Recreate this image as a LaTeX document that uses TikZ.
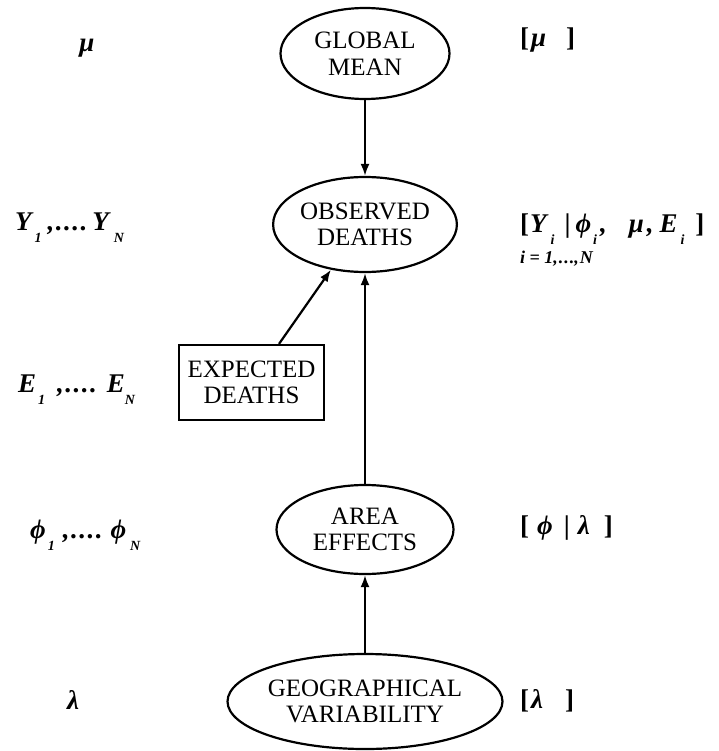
\documentclass[tikz,border=0pt]{standalone}
\usepackage{fontspec}
\setmainfont{Liberation Serif}
\usetikzlibrary{shapes.geometric,arrows.meta}
\newcommand\sbs[1]{\raisebox{-12pt}{\fontsize{14}{14}\selectfont #1}}
\newcommand\dts{,\kern1.5pt.\kern1.5pt.\kern1.5pt.\kern1.5pt.}
\newcommand\bk[1]{\textup{#1}}
\begin{document}
\begin{tikzpicture}[x=1pt,y=-1pt,
  ell/.style={draw,ellipse,line width=2.2pt,inner sep=0pt,align=center,
    font=\fontsize{25}{26.5}\selectfont},
  boxnode/.style={draw,rectangle,line width=2.2pt,inner sep=0pt,align=center,
    font=\fontsize{25}{26.5}\selectfont},
  lab/.style={font=\fontsize{27}{30}\selectfont\bfseries\itshape,inner sep=0pt},
  arr/.style={line width=2.2pt,-{Latex[length=12pt,width=9pt]}}]
\useasboundingbox (0,0) rectangle (718,751);
% nodes
\node[ell,minimum width=169pt,minimum height=91pt] (gm) at (365,53.5) {GLOBAL\\MEAN};
\node[ell,minimum width=175pt,minimum height=95pt] (od) at (365,224.5) {OBSERVED\\DEATHS};
\node[boxnode,minimum width=145pt,minimum height=75pt] (ed) at (251.5,382.5) {EXPECTED\\DEATHS};
\node[ell,minimum width=177pt,minimum height=89pt] (ae) at (365,529.5) {AREA\\EFFECTS};
\node[ell,minimum width=244pt,minimum height=95pt] (gv) at (365,701.5) {GEOGRAPHICAL\\VARIABILITY};
% connectors
\draw[arr] (gm.south) -- (od.north);
\draw[arr] (ae.north) -- (od.south);
\draw[arr] (gv.north) -- (ae.south);
\draw[arr] ([xshift=27.5pt]ed.north) -- (od.233.6);
% left labels
\node[lab,anchor=base] (lmu) at (87,52) {μ};
\node[lab,anchor=base west] (ly) at (15,230) {Y\kern3pt\sbs{1}\kern6pt\dts\kern5pt Y\kern5pt\sbs{N}};
\node[lab,anchor=base west] (le) at (18,392) {E\kern2pt\sbs{1}\kern12pt\dts\kern10pt E\sbs{N}};
\node[lab,anchor=base west] (lphi) at (30,538) {ϕ\kern2pt\sbs{1}\kern8pt\dts\kern8pt ϕ\kern4pt\sbs{N}};
\node[lab,anchor=base] (llam) at (73,709) {λ};
% right labels
\node[lab,anchor=base west] (rmu) at (520,47) {\bk{[}\kern2pt μ\kern20pt\bk{]}};
\node[lab,anchor=base west] (ry) at (520,233) {\bk{[}\kern1pt Y\kern4pt\sbs{i}\kern10pt\bk{|}\kern5pt ϕ\kern2pt\sbs{i}\kern3pt,\kern22pt μ\kern3pt,\kern6pt E\kern3pt\sbs{i}\kern11pt\bk{]}};
\node[lab,anchor=base west,font=\fontsize{18}{20}\selectfont\bfseries\itshape] (ri) at (520,263) {i = 1,\kern1pt.\kern1pt.\kern1pt.,\kern1pt N};
\node[lab,anchor=base west] (rphi) at (520,534) {\bk{[}\kern8pt ϕ\kern11pt\bk{|}\kern8pt λ\kern14pt\bk{]}};
\node[lab,anchor=base west] (rlam) at (520,708) {\bk{[}\kern2pt λ\kern22pt\bk{]}};
\end{tikzpicture}
\end{document}
